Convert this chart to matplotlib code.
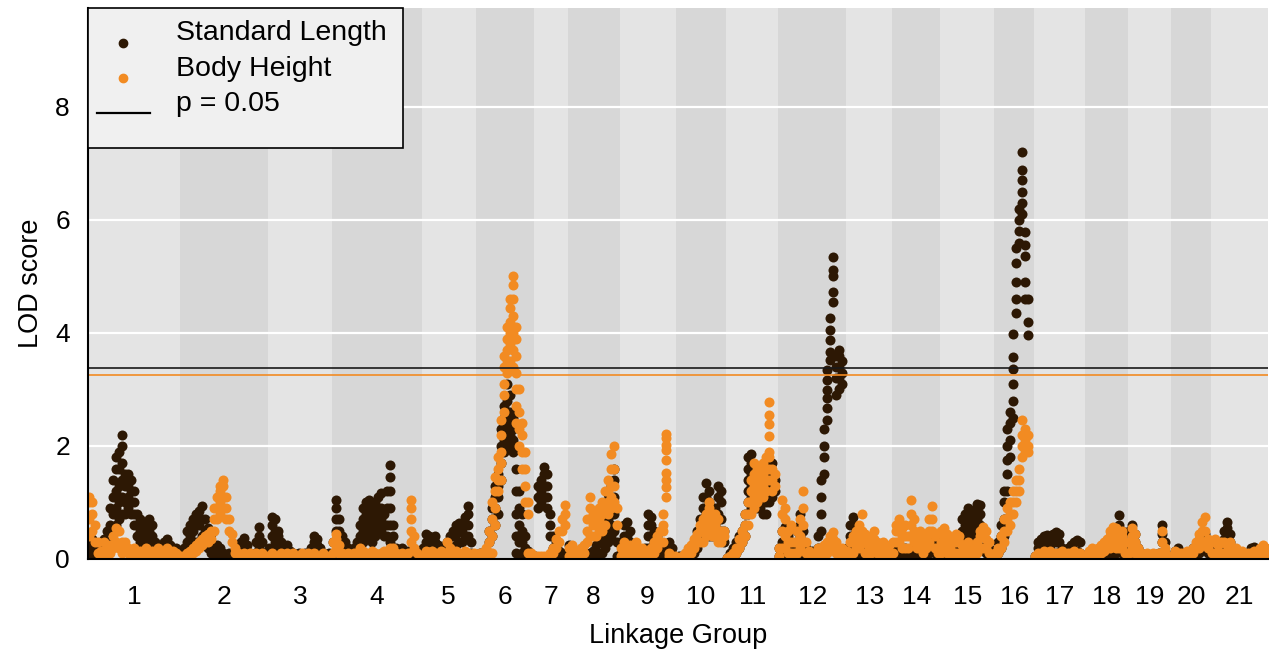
import numpy as np
import matplotlib.pyplot as plt
from matplotlib.lines import Line2D
from matplotlib.patches import Rectangle

plt.rcParams['font.family'] = ['Liberation Sans', 'DejaVu Sans']

# linkage groups, their lengths (cM) and the spacing of marker slots
lg_labels = [str(i) for i in range(1, 22)]
lg_lengths = [92, 88, 64, 90, 54, 58, 34, 52, 56, 51, 52, 68, 46, 48, 54, 40, 51, 43, 43, 40, 57]
slot_step = 3.0

# genome-wide significance thresholds (p = 0.05)
sl_threshold = 3.375
bh_threshold = 3.26

# LOD scores per slot; a list in a slot = several markers at that position
# --- Standard Length ---
sl_lg1 = [[0.1, 0.3], [0.05, 0.25, 0.35], [0.1, 0.2], [0.05, 0.15], [0.1, 0.3], [0.15, 0.35],
          [0.2, 0.5], [0.3, 0.6, 0.9], [0.5, 0.8, 1.1, 1.4], [0.6, 0.9, 1.2, 1.6, 1.8],
          [0.7, 1.0, 1.3, 1.6, 1.9], [0.8, 1.1, 1.4, 1.7, 2.0, 2.2], [0.8, 1.0, 1.3, 1.5],
          [0.9, 1.1, 1.3, 1.5], [0.8, 1.0, 1.2, 1.4], [0.6, 0.8, 1.0, 1.2], [0.4, 0.6, 0.8],
          [0.3, 0.5, 0.7], [0.2, 0.4, 0.6], [0.2, 0.4], [0.3, 0.5, 0.7], [0.2, 0.4, 0.6],
          [0.1, 0.3], [0.1, 0.2], [0.05, 0.2], [0.1, 0.3], [0.15, 0.35], [0.1, 0.25],
          [0.05, 0.15], [0.1, 0.2], 0.1]
sl_lg2 = [[0.05, 0.15], [0.1, 0.2], [0.1, 0.3, 0.5], [0.2, 0.4, 0.6], [0.2, 0.5, 0.7],
          [0.3, 0.6, 0.8], [0.3, 0.6, 0.85], [0.4, 0.7, 0.93], [0.3, 0.5, 0.7], [0.2, 0.4, 0.55],
          [0.1, 0.3, 0.45], [0.05, 0.2], [0.05, 0.15, 0.25], [0.05, 0.2], [0.02, 0.1], 0.05,
          [0.05, 0.1], 0.1, 0.1, [0.1, 0.2], [0.15, 0.3], [0.2, 0.37], [0.1, 0.25], 0.1, 0.05,
          [0.1, 0.3], [0.2, 0.4, 0.57], [0.1, 0.3], 0.1]
sl_lg3 = [[0.1, 0.2], [0.4, 0.6, 0.75], [0.3, 0.5, 0.7], [0.2, 0.4, 0.5], [0.1, 0.3], [0.1, 0.2],
          [0.1, 0.25], [0.05, 0.15], 0.1, 0.05, [0.05, 0.1], 0.05, [0.05, 0.1], 0.05, [0.1, 0.2],
          [0.15, 0.3, 0.4], [0.1, 0.25, 0.35], [0.1, 0.2], 0.1, 0.05, 0.1]
sl_lg4 = [[0.1, 0.3], [0.5, 0.7, 0.9, 1.05], [0.3, 0.5, 0.7], [0.2, 0.4], [0.1, 0.3], [0.1, 0.2],
          [0.05, 0.15], [0.1, 0.2], [0.1, 0.3], [0.2, 0.4, 0.6], [0.3, 0.5, 0.7, 0.9],
          [0.4, 0.6, 0.8, 1.0], [0.4, 0.6, 0.8, 1.05], [0.3, 0.5, 0.7, 0.9], [0.4, 0.6, 0.8, 1.0],
          [0.5, 0.7, 0.9, 1.1], [0.5, 0.7, 0.9, 1.16], [0.4, 0.6, 0.8], [0.4, 0.6, 0.9, 1.2],
          [0.3, 0.6, 0.9, 1.2, 1.45, 1.66], [0.2, 0.4, 0.6], [0.1, 0.2], 0.15, [0.1, 0.2], 0.1,
          [0.1, 0.15], 0.1, 0.05, 0.1, 0.05]
sl_lg5 = [[0.05, 0.2], [0.1, 0.3, 0.45], [0.1, 0.3, 0.4], [0.15, 0.35], [0.1, 0.3, 0.4], [0.1, 0.25],
          [0.05, 0.15], [0.1, 0.2], [0.15, 0.3], [0.2, 0.4], [0.2, 0.4, 0.5], [0.25, 0.45, 0.6],
          [0.3, 0.5, 0.63], [0.3, 0.5, 0.6], [0.4, 0.6, 0.75], [0.4, 0.6, 0.8, 0.93], [0.1, 0.3], 0.05]
sl_lg6 = [0.05, 0.1, [0.05, 0.1], 0.1, [0.1, 0.3, 0.5], [0.4, 0.7, 0.9], [0.6, 0.9, 1.1, 1.3],
          [0.8, 1.1, 1.3, 1.5], [1.4, 1.7, 2.0, 2.3], [1.9, 2.1, 2.3, 2.5, 2.7],
          [2.0, 2.2, 2.4, 2.6, 2.8, 3.1], [2.0, 2.2, 2.4, 2.6, 2.9], [1.9, 2.1, 2.3, 2.5],
          [0.1, 0.4, 0.8, 1.2, 1.6, 2.0], [0.05, 0.3, 0.6, 0.9, 1.2], [0.1, 0.3, 0.5, 0.8],
          [0.05, 0.2, 0.4], [0.05, 0.15], 0.05]
sl_lg7 = [0.05, [0.9, 1.1, 1.3], [1.0, 1.2, 1.4], [1.1, 1.3, 1.5, 1.63], [0.9, 1.1, 1.3, 1.5],
          [0.4, 0.6, 0.8], [0.2, 0.4], [0.1, 0.3], [0.05, 0.15], 0.1, 0.05]
sl_lg8 = [[0.1, 0.25], [0.1, 0.2], [0.05, 0.15], 0.05, 0.05, 0.05, 0.05, [0.02, 0.1], [0.05, 0.15],
          [0.1, 0.25], [0.1, 0.3, 0.45], [0.1, 0.3, 0.5, 0.7], [0.2, 0.4, 0.6, 0.8, 1.0],
          [0.3, 0.5, 0.7, 0.9, 1.15], [0.4, 0.6, 0.8, 1.0, 1.3], [0.5, 0.8, 1.1, 1.4, 1.6],
          [0.05, 0.3]]
sl_lg9 = [[0.1, 0.3], [0.2, 0.4, 0.6], [0.2, 0.4, 0.65], [0.1, 0.3, 0.5], [0.05, 0.2], [0.05, 0.15],
          0.1, [0.05, 0.1], [0.1, 0.2], [0.2, 0.4, 0.6, 0.8], [0.2, 0.4, 0.6, 0.75], [0.1, 0.3, 0.5],
          [0.1, 0.3, 0.4], [0.05, 0.2], 0.1, [0.1, 0.2], [0.1, 0.3], [0.05, 0.2], 0.05]
sl_lg10 = [0.02, 0.05, [0.02, 0.05], 0.05, [0.05, 0.1], [0.1, 0.2], [0.1, 0.3], [0.2, 0.4, 0.5],
           [0.3, 0.5, 0.7], [0.4, 0.6, 0.9, 1.1], [0.5, 0.8, 1.1, 1.35], [0.4, 0.7, 1.0, 1.2],
           [0.4, 0.6, 0.8], [0.4, 0.6, 0.9], [0.5, 0.8, 1.1, 1.3], [0.5, 0.7, 1.0, 1.2], [0.3, 0.5]]
sl_lg11 = [0.02, [0.05, 0.1], [0.1, 0.2], [0.1, 0.3], [0.2, 0.4], [0.3, 0.5], [0.4, 0.6, 0.8],
           [0.8, 1.0, 1.2, 1.4, 1.6, 1.8], [0.9, 1.1, 1.3, 1.5, 1.7, 1.85], [0.9, 1.1, 1.3, 1.5],
           [0.9, 1.1, 1.3, 1.5], [0.9, 1.0, 1.2, 1.4], [0.8, 1.0, 1.2], [0.8, 1.0, 1.2, 1.4],
           [1.0, 1.2, 1.4, 1.6], [1.1, 1.3, 1.5, 1.7], [1.2, 1.4]]
sl_lg12 = [[0.05, 0.2], [0.1, 0.3, 0.5], [0.1, 0.3, 0.57], [0.05, 0.2, 0.4], [0.1, 0.3], [0.05, 0.2],
           [0.1, 0.3, 0.5], [0.2, 0.4, 0.6, 0.8], [0.1, 0.3, 0.5], [0.05, 0.2], 0.1, [0.05, 0.15],
           0.1, [0.2, 0.4], [0.5, 0.8, 1.1, 1.4], [1.5, 1.8, 2.0, 2.3],
           [2.46, 2.67, 2.85, 2.99, 3.17, 3.34], [3.52, 3.67, 3.87, 4.05, 4.26],
           [4.55, 4.73, 5.0, 5.11, 5.35], [2.9, 3.2, 3.4, 3.6], [3.0, 3.2, 3.4, 3.6, 3.7],
           [3.1, 3.3, 3.5]]
sl_lg13 = [[0.05, 0.2], [0.2, 0.4, 0.6], [0.2, 0.4, 0.6, 0.75], [0.1, 0.3, 0.5], [0.05, 0.2],
           [0.05, 0.15], 0.1, [0.05, 0.15], 0.1, [0.05, 0.1], 0.1, [0.05, 0.15], 0.1, 0.05,
           [0.05, 0.1], 0.1]
sl_lg14 = [0.05, [0.05, 0.15], [0.05, 0.2], [0.05, 0.15], [0.05, 0.2], [0.05, 0.15], [0.05, 0.2],
           [0.05, 0.15], [0.05, 0.2], 0.05, [0.05, 0.1], [0.1, 0.2], [0.1, 0.3], [0.2, 0.35, 0.45],
           [0.1, 0.3], 0.1]
sl_lg15 = [[0.1, 0.3], [0.1, 0.3, 0.4], [0.1, 0.25], [0.05, 0.2], [0.1, 0.3], [0.1, 0.3, 0.4],
           [0.2, 0.4], [0.3, 0.5, 0.7], [0.4, 0.6, 0.8], [0.4, 0.6, 0.8, 0.9], [0.5, 0.7, 0.85],
           [0.4, 0.6, 0.8], [0.5, 0.7, 0.9, 0.98], [0.4, 0.6, 0.8, 0.95], [0.2, 0.4], [0.1, 0.25],
           [0.1, 0.2], 0.1]
sl_lg16 = [0.05, [0.1, 0.3], [0.2, 0.4, 0.6], [0.4, 0.7, 1.0, 1.2], [1.2, 1.5, 1.75, 2.0, 2.3],
           [1.8, 2.1, 2.4, 2.6], [2.5, 2.8, 3.1, 3.37, 3.58, 3.99], [4.35, 4.6, 4.9, 5.23, 5.5],
           [5.6, 5.8, 6.0, 6.2], [6.1, 6.3, 6.5, 6.7, 6.88, 7.21], [4.6, 4.9, 5.36, 5.56, 5.79],
           [3.96, 4.2, 4.6]]
sl_lg17 = [0.05, [0.05, 0.2, 0.3], [0.1, 0.25, 0.35], [0.1, 0.3, 0.4], [0.1, 0.3, 0.42],
           [0.1, 0.25, 0.38], [0.1, 0.3, 0.45], [0.1, 0.3, 0.48], [0.1, 0.3, 0.45], [0.05, 0.2],
           [0.05, 0.15], [0.05, 0.2], [0.1, 0.25], [0.1, 0.3], [0.15, 0.34], [0.1, 0.3], 0.05]
sl_lg18 = [0.05, [0.02, 0.1], 0.05, [0.05, 0.15], 0.1, [0.05, 0.2], 0.05, [0.05, 0.15], 0.1,
           [0.1, 0.2], [0.1, 0.3, 0.45], [0.2, 0.4, 0.6, 0.77], [0.1, 0.3, 0.5], [0.05, 0.2]]
sl_lg19 = [[0.1, 0.3, 0.5], [0.2, 0.4, 0.6], [0.1, 0.3, 0.45], [0.05, 0.2], [0.02, 0.1], 0.05,
           [0.02, 0.08], 0.05, [0.02, 0.08], 0.05, [0.05, 0.1], [0.1, 0.3, 0.45, 0.6], [0.1, 0.3],
           0.05]
sl_lg20 = [0.05, [0.05, 0.15], [0.1, 0.19], 0.05, [0.05, 0.1], 0.05, [0.05, 0.1], [0.1, 0.2],
           [0.1, 0.25], [0.1, 0.3], [0.2, 0.35], [0.2, 0.35, 0.45], [0.1, 0.3]]
sl_lg21 = [[0.1, 0.2], [0.1, 0.25], [0.1, 0.3], [0.1, 0.2], [0.2, 0.35, 0.5], [0.2, 0.4, 0.55, 0.66],
           [0.1, 0.3, 0.45], [0.05, 0.2], [0.05, 0.15], 0.1, [0.05, 0.1], 0.05, [0.05, 0.1],
           [0.1, 0.2], [0.1, 0.22], 0.1, [0.05, 0.1], 0.05, 0.05]

# --- Body Height ---
bh_lg1 = [[0.4, 0.7, 1.0, 1.1], [0.5, 0.8, 1.0], [0.3, 0.6], [0.1, 0.3], [0.05, 0.15], [0.1, 0.3],
          [0.05, 0.2], [0.1, 0.25], [0.2, 0.4], [0.3, 0.55], [0.2, 0.5], [0.1, 0.3], [0.15, 0.3],
          [0.1, 0.2], [0.05, 0.15], [0.05, 0.2], 0.1, [0.05, 0.15], 0.1, [0.05, 0.2], 0.1,
          [0.05, 0.15], 0.1, [0.05, 0.2], 0.1, [0.05, 0.15], [0.1, 0.2], 0.05, [0.05, 0.15], 0.1, 0.05]
bh_lg2 = [0.05, 0.05, [0.05, 0.1], [0.1, 0.15], [0.1, 0.2], [0.15, 0.25], [0.2, 0.3], [0.25, 0.35],
          [0.3, 0.4], [0.3, 0.45], [0.35, 0.5], [0.5, 0.7, 0.9], [0.7, 0.9, 1.1], [0.8, 1.0, 1.2, 1.3],
          [0.9, 1.1, 1.3, 1.4], [0.7, 0.9, 1.1], [0.5, 0.7], [0.3, 0.45], [0.1, 0.2], 0.1, 0.05,
          [0.05, 0.1], 0.05, 0.1, 0.05, [0.05, 0.1], 0.05, 0.1, 0.05, 0.05]
bh_lg3 = [0.05, [0.02, 0.1], 0.05, 0.05, [0.02, 0.1], 0.05, 0.1, 0.05, [0.02, 0.1], 0.05, 0.05,
          [0.05, 0.1], 0.05, 0.1, 0.05, [0.02, 0.1], 0.05, 0.05, [0.05, 0.1], 0.05, 0.05]
bh_lg4 = [[0.1, 0.3], [0.2, 0.35, 0.45], [0.1, 0.25], 0.1, 0.05, 0.1, 0.05, [0.05, 0.1], 0.1,
          [0.1, 0.2], [0.05, 0.15], 0.1, 0.05, [0.05, 0.15], 0.1, 0.05, 0.1, [0.05, 0.15], 0.1,
          [0.1, 0.2], [0.1, 0.2], 0.1, 0.05, 0.1, 0.05, 0.1, [0.3, 0.5, 0.7, 0.9, 1.04], [0.2, 0.4],
          0.1, 0.05]
bh_lg5 = [0.05, [0.05, 0.15], 0.1, [0.05, 0.15], 0.1, 0.05, [0.05, 0.15], 0.1, [0.1, 0.3],
          [0.1, 0.2], 0.1, [0.05, 0.15], 0.1, 0.05, [0.05, 0.15], 0.1, 0.05, 0.1]
bh_lg6 = [0.05, [0.05, 0.1], 0.1, [0.1, 0.2], [0.1, 0.3, 0.5], [0.1, 0.4, 0.7, 1.0],
          [0.6, 0.9, 1.2, 1.45], [1.2, 1.4, 1.6, 1.8], [1.4, 1.7, 1.9, 2.2, 2.46],
          [2.6, 2.9, 3.1, 3.4, 3.6], [3.3, 3.5, 3.7, 3.9, 4.1], [3.5, 3.8, 4.0, 4.2, 4.45, 4.6],
          [3.4, 3.7, 4.0, 4.3, 4.6, 4.85, 5.0], [2.4, 2.7, 3.0, 3.3, 3.6, 3.9, 4.1],
          [2.0, 2.3, 2.6, 3.0], [1.6, 1.9, 2.2, 2.4], [1.0, 1.3, 1.6, 1.9], [0.1, 0.8, 1.0],
          [0.05, 0.1]]
bh_lg7 = [0.05, 0.05, 0.05, 0.05, 0.05, [0.05, 0.1], [0.1, 0.2], [0.2, 0.35], [0.3, 0.5],
          [0.5, 0.7], [0.6, 0.8, 0.95]]
bh_lg8 = [[0.05, 0.2], [0.1, 0.25], [0.05, 0.15], [0.05, 0.1], [0.1, 0.2], [0.1, 0.25],
          [0.3, 0.5, 0.7], [0.4, 0.7, 0.9, 1.1], [0.4, 0.6, 0.8], [0.4, 0.6, 0.8], [0.5, 0.7, 0.9],
          [0.5, 0.8, 1.0], [0.6, 0.9, 1.2], [0.8, 1.0, 1.2, 1.4], [0.9, 1.1, 1.3, 1.6, 1.85],
          [1.0, 1.3, 1.6, 2.0], [0.6, 0.9]]
bh_lg9 = [[0.05, 0.2], [0.1, 0.3], [0.05, 0.2], [0.1, 0.25], [0.05, 0.15], [0.1, 0.3], [0.05, 0.2],
          [0.1, 0.2], 0.05, 0.1, [0.1, 0.2], [0.1, 0.3], [0.2, 0.4], [0.3, 0.5], [0.3, 0.5, 0.6, 0.8],
          [1.1, 1.28, 1.4, 1.52, 1.75, 1.93, 2.02, 2.14, 2.22], [0.05, 0.1], 0.05, 0.05]
bh_lg10 = [0.02, 0.02, 0.05, [0.05, 0.1], [0.1, 0.2], [0.1, 0.25], [0.2, 0.35], [0.3, 0.45],
           [0.3, 0.5, 0.6], [0.3, 0.5, 0.7], [0.4, 0.6, 0.8], [0.5, 0.7, 0.9, 1.0], [0.4, 0.6, 0.8],
           [0.4, 0.6, 0.8], [0.3, 0.5, 0.7], [0.3, 0.5], [0.4, 0.5]]
bh_lg11 = [0.02, 0.05, [0.05, 0.1], [0.1, 0.2], [0.2, 0.35], [0.3, 0.5], [0.4, 0.6, 0.8],
           [0.6, 0.8, 1.0], [0.8, 1.0, 1.2, 1.4], [0.9, 1.1, 1.3, 1.5, 1.7], [1.0, 1.2, 1.4, 1.6],
           [1.1, 1.3, 1.5], [1.1, 1.3, 1.5, 1.7], [1.2, 1.4, 1.6, 1.8],
           [1.4, 1.6, 1.8, 1.9, 2.17, 2.38, 2.55, 2.78], [1.2, 1.4, 1.6], [1.3, 1.5]]
bh_lg12 = [[0.05, 0.2], [0.2, 0.5, 0.8, 1.05], [0.2, 0.4, 0.7, 0.9], [0.1, 0.3, 0.5], [0.1, 0.3, 0.6],
           [0.1, 0.3], [0.1, 0.3, 0.5], [0.2, 0.4, 0.7], [0.3, 0.6, 0.9, 1.2], [0.1, 0.3],
           [0.05, 0.15], 0.05, [0.05, 0.1], [0.1, 0.2], [0.05, 0.15], [0.1, 0.25], [0.1, 0.3],
           [0.2, 0.4], [0.2, 0.35, 0.48], [0.1, 0.3], [0.05, 0.2], [0.1, 0.2], 0.05]
bh_lg13 = [[0.05, 0.15], [0.1, 0.3], [0.1, 0.3, 0.4], [0.2, 0.4, 0.5], [0.2, 0.4, 0.6],
           [0.3, 0.5, 0.8], [0.1, 0.3, 0.45], [0.1, 0.25], [0.1, 0.3, 0.4], [0.2, 0.35, 0.5],
           [0.1, 0.3], [0.1, 0.2], [0.1, 0.3], [0.05, 0.2], [0.1, 0.25]]
bh_lg14 = [[0.1, 0.3], [0.3, 0.5, 0.6], [0.3, 0.5, 0.7], [0.2, 0.4, 0.55], [0.2, 0.4, 0.6], [0.2, 0.4],
           [0.4, 0.6, 0.8, 1.04], [0.3, 0.5, 0.7], [0.2, 0.4], [0.2, 0.35, 0.5], [0.1, 0.3], [0.2, 0.4],
           [0.3, 0.5, 0.7], [0.5, 0.7, 0.93], [0.2, 0.4], [0.1, 0.2]]
bh_lg15 = [[0.1, 0.3, 0.5], [0.2, 0.4, 0.55], [0.1, 0.3, 0.45], [0.05, 0.2, 0.35], [0.1, 0.3],
           [0.1, 0.3, 0.45], [0.1, 0.3, 0.4], [0.1, 0.25], [0.05, 0.2], [0.1, 0.3], [0.05, 0.15],
           [0.1, 0.2], [0.1, 0.3], [0.2, 0.4, 0.5], [0.2, 0.4, 0.57], [0.2, 0.35, 0.5], [0.1, 0.3], 0.05]
bh_lg16 = [[0.02, 0.1], [0.1, 0.2], [0.2, 0.4], [0.3, 0.5, 0.7], [0.5, 0.7, 0.9], [0.6, 0.8, 1.0],
           [0.8, 1.0, 1.2], [1.0, 1.2, 1.4], [1.2, 1.4, 1.6], [1.8, 2.0, 2.2, 2.46], [1.9, 2.1, 2.3],
           [1.9, 2.0, 2.2]]
bh_lg17 = [0.05, [0.02, 0.1], 0.05, [0.05, 0.15], 0.1, [0.05, 0.15], 0.05, [0.05, 0.1], 0.1,
           [0.05, 0.15], 0.05, [0.05, 0.1], 0.1, [0.05, 0.15], 0.05, 0.1, 0.05]
bh_lg18 = [0.05, [0.05, 0.15], [0.1, 0.2], [0.05, 0.15], [0.1, 0.2], [0.1, 0.25], [0.15, 0.3],
           [0.2, 0.35], [0.2, 0.4, 0.5], [0.3, 0.45, 0.57], [0.2, 0.4, 0.55], [0.2, 0.35],
           [0.2, 0.4, 0.5], [0.1, 0.3]]
bh_lg19 = [[0.1, 0.3], [0.2, 0.4, 0.55], [0.1, 0.3, 0.45], [0.1, 0.2], [0.05, 0.1], 0.05, 0.1,
           0.05, [0.05, 0.1], 0.05, 0.1, [0.1, 0.3, 0.5], [0.1, 0.2], 0.05]
bh_lg20 = [0.05, [0.05, 0.15], 0.1, [0.05, 0.1], 0.1, [0.05, 0.15], [0.05, 0.15], [0.1, 0.2],
           [0.2, 0.3], [0.2, 0.35, 0.45], [0.3, 0.5, 0.65], [0.3, 0.5, 0.75], [0.2, 0.35]]
bh_lg21 = [[0.1, 0.3], [0.1, 0.3, 0.35], [0.1, 0.25], [0.1, 0.3], [0.1, 0.3], [0.1, 0.25], [0.1, 0.3],
           [0.05, 0.15], [0.1, 0.2], 0.05, [0.05, 0.15], 0.05, [0.05, 0.1], 0.1, [0.05, 0.15], 0.05,
           [0.1, 0.2], [0.1, 0.25], [0.1, 0.2]]

sl_groups = [sl_lg1, sl_lg2, sl_lg3, sl_lg4, sl_lg5, sl_lg6, sl_lg7, sl_lg8, sl_lg9, sl_lg10, sl_lg11,
             sl_lg12, sl_lg13, sl_lg14, sl_lg15, sl_lg16, sl_lg17, sl_lg18, sl_lg19, sl_lg20, sl_lg21]
bh_groups = [bh_lg1, bh_lg2, bh_lg3, bh_lg4, bh_lg5, bh_lg6, bh_lg7, bh_lg8, bh_lg9, bh_lg10, bh_lg11,
             bh_lg12, bh_lg13, bh_lg14, bh_lg15, bh_lg16, bh_lg17, bh_lg18, bh_lg19, bh_lg20, bh_lg21]

legend_labels = ['Standard Length', 'Body Height', 'p = 0.05']

dark_col = '#2d1804'
orange_col = '#f28b22'


def expand(groups):
    # turn per-group slot lists into genome-wide x / LOD arrays
    xs, ys = [], []
    start = 0.0
    for length, slots in zip(lg_lengths, groups):
        for i, v in enumerate(slots):
            if v is None:
                continue
            vals = v if isinstance(v, list) else [v]
            for y in vals:
                xs.append(start + 1 + slot_step * i)
                ys.append(y)
        start += length
    return np.array(xs), np.array(ys)


sl_x, sl_y = expand(sl_groups)
bh_x, bh_y = expand(bh_groups)

W, H = 1269, 657
fig = plt.figure(figsize=(W / 100, H / 100), dpi=100)
ax = fig.add_axes([88 / W, 98 / H, 1180 / W, 551 / H])

bounds = np.concatenate([[0], np.cumsum(lg_lengths)])
for k in range(len(lg_lengths)):
    shade = '#e4e4e4' if k % 2 == 0 else '#d7d7d7'
    ax.axvspan(bounds[k], bounds[k + 1], color=shade, lw=0, zorder=0)
for y in [2, 4, 6, 8]:
    ax.axhline(y, color='white', lw=1.6, zorder=1)

ax.scatter(sl_x, sl_y, s=52, color=dark_col, lw=0, zorder=2)
ax.scatter(bh_x, bh_y, s=52, color=orange_col, lw=0, zorder=3)
ax.axhline(sl_threshold, color='#1a1a1a', lw=1.2, zorder=4)
ax.axhline(bh_threshold, color=orange_col, lw=1.2, zorder=4)

ax.set_xlim(0, bounds[-1])
ax.set_ylim(0, 9.75)
centers = (bounds[:-1] + bounds[1:]) / 2
ax.set_xticks(centers, lg_labels)
ax.set_yticks([0, 2, 4, 6, 8])
ax.tick_params(length=0, labelsize=19)
ax.tick_params(axis='x', pad=19)
ax.tick_params(axis='y', pad=13)
for side in ['top', 'right']:
    ax.spines[side].set_visible(False)
for side in ['left', 'bottom']:
    ax.spines[side].set_linewidth(1.5)
    ax.spines[side].set_zorder(5)

ax.set_xlabel('Linkage Group', fontsize=19.5, labelpad=10)
ax.set_ylabel('LOD score', fontsize=19.5, labelpad=8)

# legend box drawn in figure pixels (top-left origin), like the base-graphics original
def fx(px):
    return px / W


def fy(py):
    return 1 - py / H


fig.add_artist(Rectangle((fx(88), fy(148)), fx(403) - fx(88), fy(8) - fy(148),
                         transform=fig.transFigure, facecolor='#f0f0f0',
                         edgecolor='black', lw=1.2, zorder=10))
text_rows = [33, 69, 104]
for row, lab in zip(text_rows, legend_labels):
    fig.text(fx(176), fy(row), lab, fontsize=20.5, va='center', ha='left', zorder=11)
fig.add_artist(Line2D([fx(123)], [fy(43)], ls='none', marker='o', ms=6, color=dark_col,
                      transform=fig.transFigure, zorder=11))
fig.add_artist(Line2D([fx(123)], [fy(78)], ls='none', marker='o', ms=6, color=orange_col,
                      transform=fig.transFigure, zorder=11))
fig.add_artist(Line2D([fx(97), fx(150)], [fy(113), fy(113)], color='black', lw=1.6,
                      transform=fig.transFigure, zorder=11))

fig.savefig('out.png', dpi=100)
